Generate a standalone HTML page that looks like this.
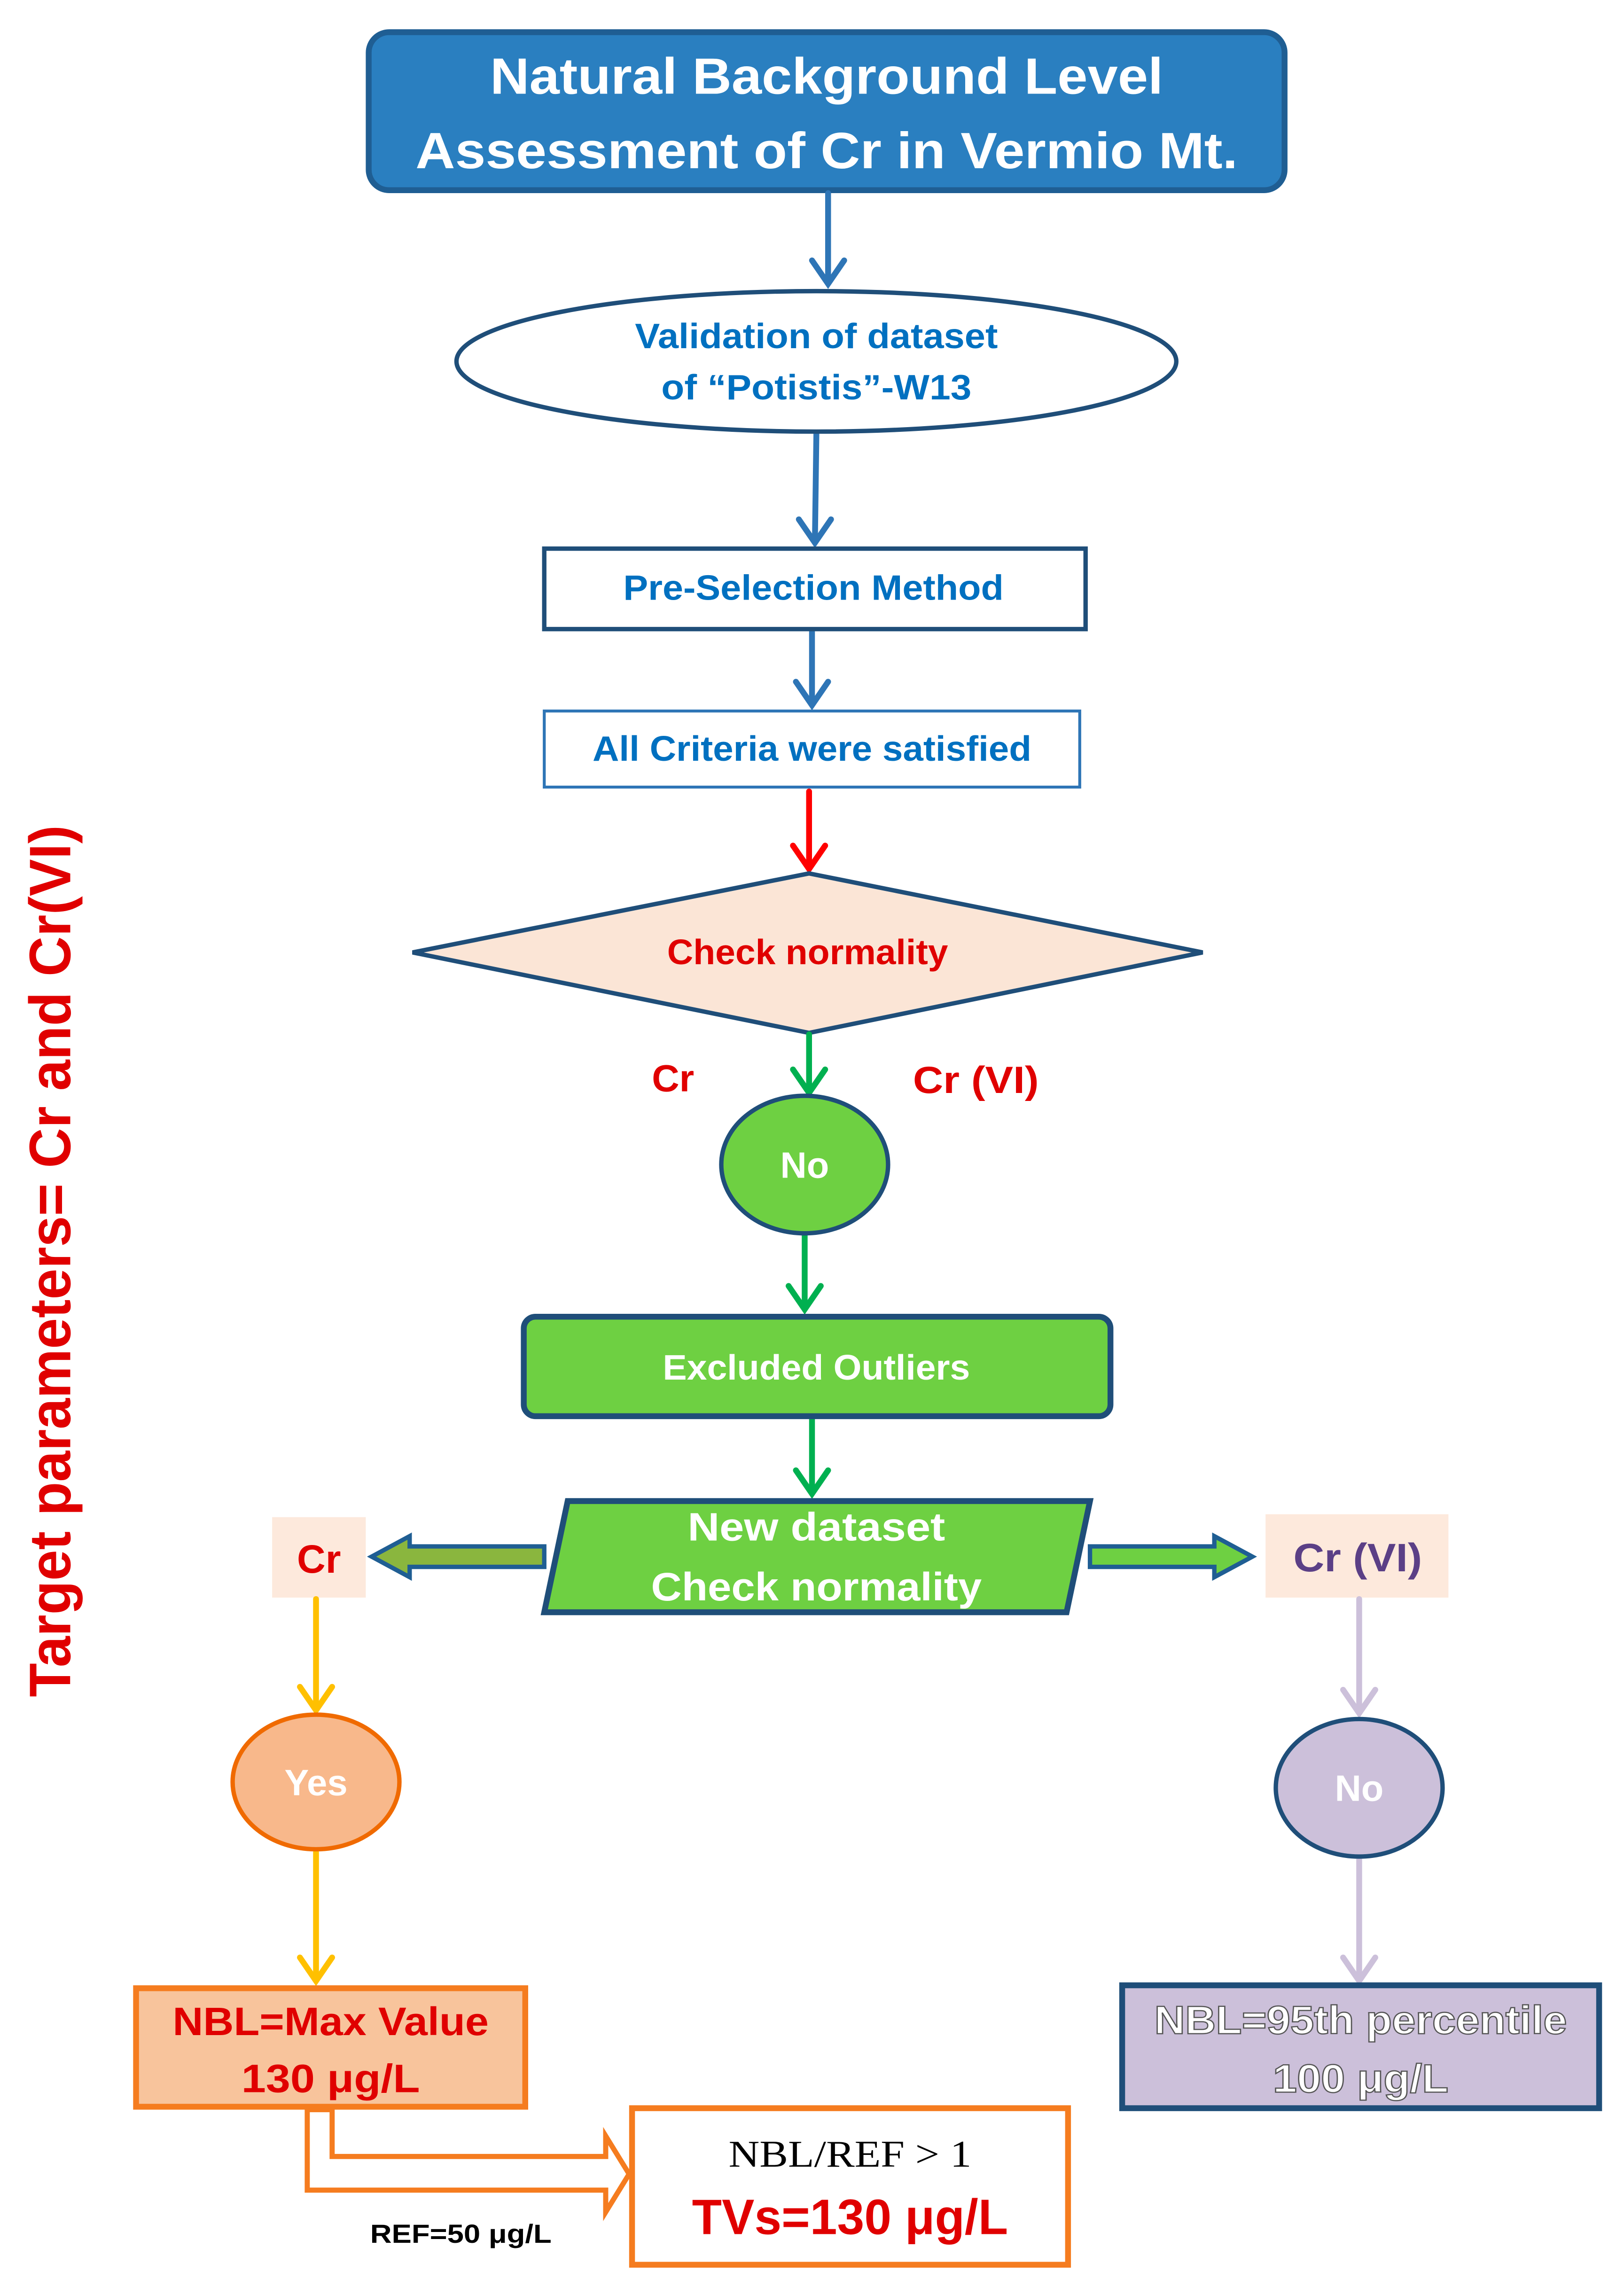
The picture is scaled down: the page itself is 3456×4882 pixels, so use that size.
<!DOCTYPE html>
<html><head><meta charset="utf-8"><style>
html,body{margin:0;padding:0;background:#fff;}
svg{display:block;}
text{font-family:"Liberation Sans",sans-serif;font-weight:bold;}
</style></head><body>
<svg width="3456" height="4882" viewBox="0 0 1110 1568" preserveAspectRatio="none" xmlns="http://www.w3.org/2000/svg">
<rect width="1110" height="1568" fill="#fff"/>
<!-- title -->
<rect x="252" y="22" width="626" height="108" rx="14" fill="#2a7fc0" stroke="#1f5e93" stroke-width="4"/>
<text x="565" y="64" font-size="35" fill="#fff" text-anchor="middle" textLength="460" lengthAdjust="spacingAndGlyphs">Natural Background Level</text>
<text x="565" y="115" font-size="35" fill="#fff" text-anchor="middle" textLength="562" lengthAdjust="spacingAndGlyphs">Assessment of Cr in Vermio Mt.</text>
<!-- blue arrows -->
<g stroke="#2e75b6" stroke-width="4" fill="none" stroke-linecap="round">
<line x1="566" y1="132" x2="566" y2="193"/><polyline points="555,178 566,194 577,178"/>
<line x1="558" y1="296" x2="557" y2="370"/><polyline points="546,355 557,371 568,355"/>
<line x1="555" y1="432" x2="555" y2="481"/><polyline points="544,466 555,482 566,466"/>
</g>
<ellipse cx="558" cy="247" rx="246" ry="48" fill="#fff" stroke="#1f4e79" stroke-width="3"/>
<text x="558" y="238" font-size="24" fill="#0070c0" text-anchor="middle" textLength="248" lengthAdjust="spacingAndGlyphs">Validation of dataset</text>
<text x="558" y="273" font-size="24" fill="#0070c0" text-anchor="middle" textLength="212" lengthAdjust="spacingAndGlyphs">of “Potistis”-W13</text>
<rect x="372" y="375" width="370" height="55" fill="#fff" stroke="#1f4e79" stroke-width="3"/>
<text x="556" y="410" font-size="24" fill="#0070c0" text-anchor="middle" textLength="260" lengthAdjust="spacingAndGlyphs">Pre-Selection Method</text>
<rect x="372" y="486" width="366" height="52" fill="#fff" stroke="#2e75b6" stroke-width="2"/>
<text x="555" y="520" font-size="24" fill="#0070c0" text-anchor="middle" textLength="300" lengthAdjust="spacingAndGlyphs">All Criteria were satisfied</text>
<g stroke="#ff0000" stroke-width="4" fill="none" stroke-linecap="round">
<line x1="553" y1="541" x2="553" y2="593"/><polyline points="542,578 553,594 564,578"/>
</g>
<polygon points="553,597 822,651 553,706 282,651" fill="#fbe5d6" stroke="#1f4e79" stroke-width="3"/>
<text x="552" y="659" font-size="24" fill="#e00000" text-anchor="middle" textLength="192" lengthAdjust="spacingAndGlyphs">Check normality</text>
<!-- green arrows -->
<g stroke="#00b050" stroke-width="4" fill="none" stroke-linecap="round">
<line x1="553" y1="707" x2="553" y2="746"/><polyline points="542,731 553,747 564,731"/>
<line x1="550" y1="844" x2="550" y2="894"/><polyline points="539,879 550,895 561,879"/>
<line x1="555" y1="969" x2="555" y2="1020"/><polyline points="544,1005 555,1021 566,1005"/>
</g>
<text x="460" y="746" font-size="26" fill="#e00000" text-anchor="middle">Cr</text>
<text x="667" y="747" font-size="26" fill="#e00000" text-anchor="middle" textLength="86" lengthAdjust="spacingAndGlyphs">Cr (VI)</text>
<ellipse cx="550" cy="796" rx="57" ry="47" fill="#6ed042" stroke="#1f4e79" stroke-width="3"/>
<text x="550" y="805" font-size="25" fill="#fff" text-anchor="middle">No</text>
<rect x="358" y="900" width="401" height="68" rx="8" fill="#6ed042" stroke="#1f4e79" stroke-width="4"/>
<text x="558" y="943" font-size="24" fill="#fff" text-anchor="middle" textLength="210" lengthAdjust="spacingAndGlyphs">Excluded  Outliers</text>
<polygon points="388,1026 745,1026 729,1102 372,1102" fill="#6ed042" stroke="#1f4e79" stroke-width="4"/>
<text x="558" y="1053" font-size="27" fill="#fff" text-anchor="middle" textLength="176" lengthAdjust="spacingAndGlyphs">New dataset</text>
<text x="558" y="1094" font-size="27" fill="#fff" text-anchor="middle" textLength="226" lengthAdjust="spacingAndGlyphs">Check normality</text>
<!-- block arrows -->
<polygon points="372,1057 280,1057 280,1050 254,1064 280,1078 280,1071 372,1071" fill="#8ab63e" stroke="#1f5e93" stroke-width="3"/>
<polygon points="745,1057 830,1057 830,1050 856,1064 830,1078 830,1071 745,1071" fill="#6ed042" stroke="#1f5e93" stroke-width="3"/>
<rect x="186" y="1037" width="64" height="55" fill="#fde9dc"/>
<text x="218" y="1075" font-size="27" fill="#e00000" text-anchor="middle">Cr</text>
<rect x="865" y="1035" width="125" height="57" fill="#fde9dc"/>
<text x="928" y="1074" font-size="27" fill="#5b3f86" text-anchor="middle" textLength="88" lengthAdjust="spacingAndGlyphs">Cr (VI)</text>
<!-- left branch -->
<g stroke="#ffc000" stroke-width="4" fill="none" stroke-linecap="round">
<line x1="216" y1="1093" x2="216" y2="1168"/><polyline points="205,1153 216,1169 227,1153"/>
<line x1="216" y1="1266" x2="216" y2="1353"/><polyline points="205,1338 216,1354 227,1338"/>
</g>
<ellipse cx="216" cy="1218" rx="57" ry="46" fill="#f8b88b" stroke="#f06a00" stroke-width="3"/>
<text x="216" y="1227" font-size="25" fill="#fff" text-anchor="middle">Yes</text>
<rect x="93" y="1359" width="266" height="81" fill="#f8c49c" stroke="#f57c1f" stroke-width="4"/>
<text x="226" y="1391" font-size="27" fill="#e00000" text-anchor="middle" textLength="216" lengthAdjust="spacingAndGlyphs">NBL=Max Value</text>
<text x="226" y="1430" font-size="27" fill="#e00000" text-anchor="middle" textLength="122" lengthAdjust="spacingAndGlyphs">130 μg/L</text>
<!-- right branch -->
<g stroke="#ccc0da" stroke-width="4" fill="none" stroke-linecap="round">
<line x1="929" y1="1093" x2="929" y2="1170"/><polyline points="918,1155 929,1171 940,1155"/>
<line x1="929" y1="1271" x2="929" y2="1353"/><polyline points="918,1338 929,1354 940,1338"/>
</g>
<ellipse cx="929" cy="1222" rx="57" ry="47" fill="#ccc0da" stroke="#1f4e79" stroke-width="3"/>
<text x="929" y="1231" font-size="25" fill="#fff" text-anchor="middle">No</text>
<rect x="767" y="1357" width="326" height="84" fill="#ccc0da" stroke="#1f4e79" stroke-width="4"/>
<text x="930" y="1390" font-size="27" fill="#fff" stroke="#555" stroke-width="0.8" text-anchor="middle" textLength="282" lengthAdjust="spacingAndGlyphs">NBL=95th percentile</text>
<text x="930" y="1430" font-size="27" fill="#fff" stroke="#555" stroke-width="0.8" text-anchor="middle" textLength="120" lengthAdjust="spacingAndGlyphs">100 μg/L</text>
<!-- bent arrow -->
<polygon points="210,1442 227,1442 227,1474 414,1474 414,1460 430,1486 414,1512 414,1497 210,1497" fill="#fff" stroke="#f57c1f" stroke-width="3.5" stroke-linejoin="miter"/>
<rect x="432" y="1441" width="298" height="107" fill="#fff" stroke="#f57c1f" stroke-width="4"/>
<text x="581" y="1481" font-size="26" font-family="Liberation Serif,serif" style="font-family:'Liberation Serif',serif;font-weight:normal" fill="#000" text-anchor="middle" textLength="166" lengthAdjust="spacingAndGlyphs">NBL/REF &gt; 1</text>
<text x="581" y="1527" font-size="34" fill="#e00000" text-anchor="middle" textLength="216" lengthAdjust="spacingAndGlyphs">TVs=130 μg/L</text>
<text x="315" y="1533" font-size="18" fill="#000" text-anchor="middle" textLength="124" lengthAdjust="spacingAndGlyphs">REF=50 μg/L</text>
<!-- vertical label -->
<text transform="translate(48,862) rotate(-90)" font-size="40" fill="#e00000" text-anchor="middle" textLength="596" lengthAdjust="spacingAndGlyphs">Target parameters= Cr  and Cr(VI)</text>
</svg>
</body></html>
